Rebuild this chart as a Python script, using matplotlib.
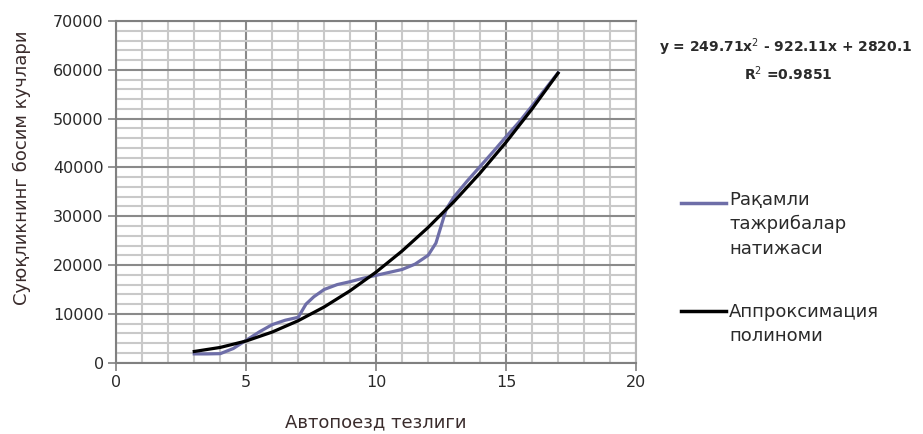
import matplotlib
matplotlib.use("Agg")
import matplotlib.pyplot as plt
from matplotlib.lines import Line2D
from matplotlib.ticker import MultipleLocator

# Data
exp_x = [3.0, 3.5, 4.0, 4.5, 5.0, 5.5, 6.0, 6.5, 7.0, 7.3, 7.6, 8.0, 8.5, 9.0, 9.5,
         10.0, 10.5, 11.0, 11.5, 12.0, 12.3, 12.5, 12.7, 13.0, 13.5, 14.0, 14.5,
         15.0, 15.5, 16.0, 16.5, 17.0]
exp_y = [1800, 1800, 1850, 2900, 4600, 6300, 7800, 8700, 9300, 12000, 13500, 15000,
         16000, 16600, 17300, 17900, 18500, 19100, 20200, 22000, 24500, 28000, 31500,
         34000, 37200, 40200, 43200, 46300, 49300, 52600, 56000, 59400]

fit_x = [3, 4, 5, 6, 7, 8, 9, 10, 11, 12, 13, 14, 15, 16, 17]
fit_y = [2300, 3130, 4450, 6280, 8600, 11420, 14750, 18570, 22890, 27710, 33030,
         38850, 45170, 51990, 59310]

x_ticks = [0, 5, 10, 15, 20]
y_ticks = [0, 10000, 20000, 30000, 40000, 50000, 60000, 70000]

series_labels = ["Рақамли\nтажрибалар\nнатижаси", "Аппроксимация\nполиноми"]
equation = "y = 249.71x$^{2}$ - 922.11x + 2820.1"
r2_text = "R$^{2}$ =0.9851"
x_label = "Автопоезд тезлиги"
y_label = "Суюқликнинг босим кучлари"

plt.rcParams['font.family'] = ['DejaVu Sans']
W, H = 923, 434
fig = plt.figure(figsize=(W / 100, H / 100), dpi=100)
fig.patch.set_facecolor('white')

ax = fig.add_axes([116.3 / W, 1 - 362.7 / H, (636 - 116.3) / W, (362.7 - 21) / H])
ax.set_xlim(0, 20)
ax.set_ylim(0, 70000)
ax.set_xticks(x_ticks)
ax.set_yticks(y_ticks)
ax.xaxis.set_minor_locator(MultipleLocator(1))
ax.yaxis.set_minor_locator(MultipleLocator(2000))

ax.grid(which='minor', color='#c9c9c9', linewidth=1.5, zorder=0)
ax.grid(which='major', color='#8a8a8a', linewidth=1.5, zorder=1)
ax.set_axisbelow(True)

text_color = '#2a2a2a'
ax.tick_params(axis='both', which='major', direction='out', length=6, width=1.2,
               color='#808080', labelsize=11.5, labelcolor=text_color, pad=3)
ax.tick_params(axis='both', which='minor', length=0)

for side in ['left', 'bottom', 'top']:
    ax.spines[side].set_color('#808080')
    ax.spines[side].set_linewidth(1.5)
ax.spines['right'].set_color('#b5b5b5')
ax.spines['right'].set_linewidth(1.5)

purple = '#6e6ea8'
ax.plot(exp_x, exp_y, color=purple, linewidth=2.3, zorder=3)
ax.plot(fit_x, fit_y, color='black', linewidth=2.3, zorder=4)

# axis titles
fig.text(376 / W, 1 - 422 / H, x_label, ha='center', va='center', fontsize=13,
         color='#3a2c2c')
fig.text(22 / W, 1 - 168 / H, y_label, ha='center', va='center', rotation=90,
         fontsize=13, color='#3a2c2c')

# trendline equation
fig.text(786 / W, 1 - 47 / H, equation, ha='center', va='center', fontsize=10,
         color=text_color, fontweight='semibold')
fig.text(788 / W, 1 - 74 / H, r2_text, ha='center', va='center', fontsize=10,
         color=text_color, fontweight='semibold')

# legend
leg_items = [(purple, 202.7, 190.7), ('black', 310.7, 303)]
for (col, ly, ty), lab in zip(leg_items, series_labels):
    fig.add_artist(Line2D([681 / W, 726 / W], [1 - ly / H, 1 - ly / H], color=col,
                          linewidth=2.5, transform=fig.transFigure))
    fig.text(729 / W, 1 - ty / H, lab, ha='left', va='top', fontsize=13,
             color=text_color, linespacing=1.45,
             transform=fig.transFigure)

fig.savefig('out.png', dpi=100, facecolor='white')
